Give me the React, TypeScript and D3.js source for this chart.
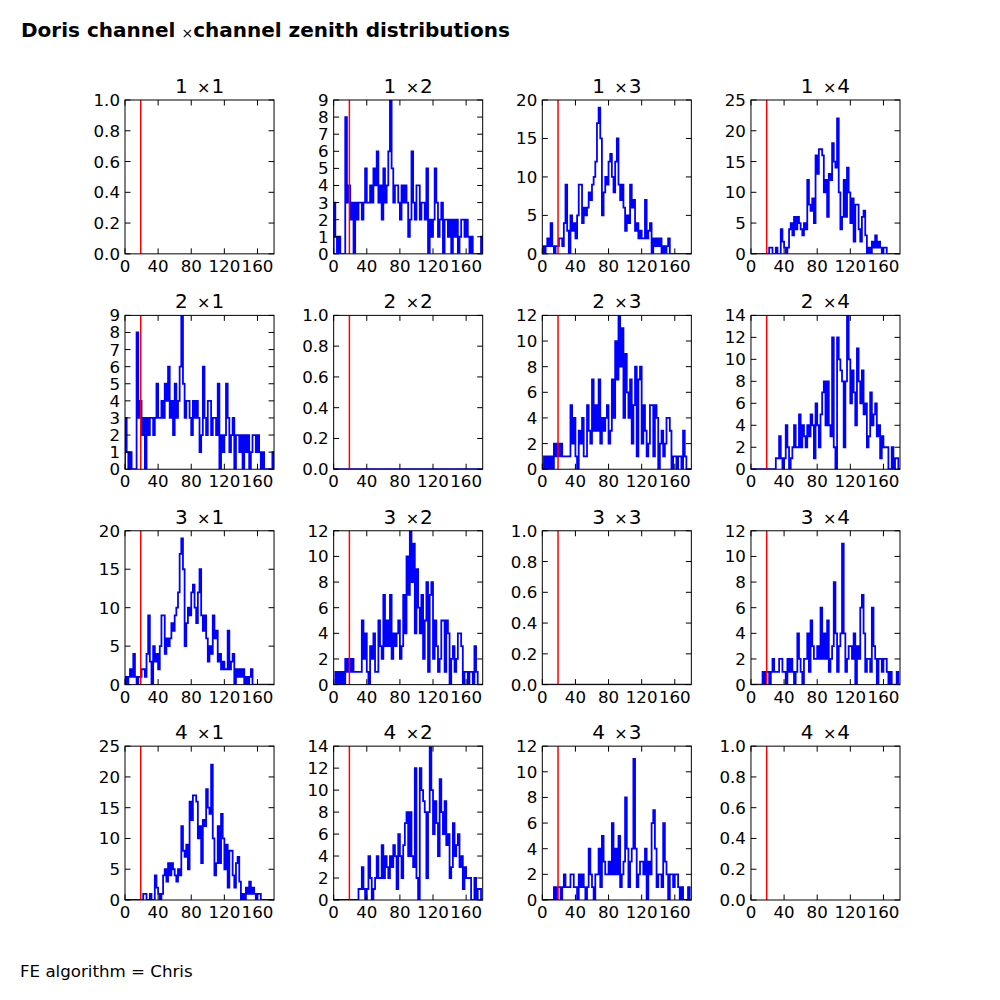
import * as d3 from "d3";

// channel pair histograms, 2 degree bins from 0 to 180 (pairs are symmetric)
const hist12 = [
  3, 1, 0, 1, 0, 0, 0, 8, 3, 4, 2, 3, 0, 3, 2, 3, 3, 2, 3, 5,
  3, 3, 4, 3, 5, 4, 6, 3, 4, 2, 5, 3, 4, 6, 9, 5, 3, 4, 4, 3,
  2, 4, 3, 4, 3, 1, 2, 6, 3, 2, 4, 4, 2, 3, 3, 2, 5, 0, 2, 1,
  2, 5, 3, 1, 2, 3, 0, 2, 2, 1, 2, 0, 2, 1, 2, 0, 1, 2, 2, 1,
  2, 1, 0, 1, 0, 0, 0, 0, 0, 1,
];
const hist13 = [
  1, 0, 1, 2, 1, 4, 1, 0, 1, 1, 2, 2, 1, 4, 9, 3, 0, 5, 3, 4,
  2, 5, 9, 9, 4, 6, 5, 6, 8, 7, 9, 10, 12, 17, 19, 15, 5, 8, 10, 9,
  12, 13, 10, 8, 12, 15, 9, 7, 9, 6, 3, 5, 4, 9, 6, 7, 3, 4, 2, 3,
  2, 2, 7, 2, 3, 4, 0, 2, 1, 2, 1, 2, 0, 1, 0, 1, 2, 0, 0, 0,
  0, 0, 0, 0, 0, 0, 0, 0, 0, 0,
];
const hist14 = [
  0, 0, 0, 0, 0, 0, 0, 0, 0, 0, 0, 1, 1, 0, 0, 1, 0, 0, 4, 2,
  1, 0, 1, 4, 5, 3, 6, 4, 6, 5, 4, 3, 5, 4, 12, 8, 7, 9, 5, 16,
  13, 17, 17, 16, 10, 12, 6, 13, 12, 18, 15, 14, 22, 10, 4, 6, 12, 6, 14, 10,
  5, 9, 2, 8, 8, 4, 2, 6, 7, 3, 0, 1, 0, 2, 1, 3, 1, 2, 1, 0,
  1, 1, 0, 0, 0, 0, 0, 0, 0, 0,
];
const hist23 = [
  0, 1, 0, 1, 0, 1, 0, 2, 1, 2, 1, 2, 1, 1, 1, 1, 1, 5, 2, 4,
  1, 0, 3, 2, 4, 1, 1, 5, 3, 2, 7, 3, 5, 3, 7, 2, 4, 3, 4, 5,
  2, 3, 7, 4, 10, 7, 12, 8, 11, 4, 9, 6, 4, 7, 2, 5, 8, 1, 7, 8,
  2, 5, 3, 1, 2, 5, 5, 1, 5, 4, 0, 2, 3, 1, 2, 4, 4, 3, 0, 1,
  1, 0, 1, 1, 0, 3, 1, 0, 0, 0,
];
const hist24 = [
  0, 0, 0, 0, 0, 0, 0, 0, 0, 0, 0, 0, 0, 0, 0, 1, 1, 3, 1, 0,
  1, 4, 2, 0, 1, 2, 4, 2, 2, 5, 2, 4, 3, 2, 4, 3, 5, 4, 1, 6,
  4, 2, 5, 7, 8, 4, 8, 4, 3, 12, 2, 0, 12, 10, 9, 8, 2, 8, 14, 10,
  6, 9, 7, 4, 11, 8, 6, 9, 5, 6, 2, 3, 7, 4, 5, 6, 3, 4, 1, 3,
  2, 2, 2, 0, 0, 2, 0, 1, 1, 0,
];
const hist34 = [
  0, 0, 0, 0, 0, 0, 0, 1, 0, 1, 1, 0, 1, 2, 1, 1, 1, 2, 2, 1,
  1, 0, 2, 1, 2, 1, 0, 1, 4, 2, 1, 0, 2, 2, 4, 1, 5, 3, 2, 2,
  3, 2, 6, 2, 4, 2, 5, 1, 2, 3, 8, 4, 1, 3, 4, 11, 4, 1, 2, 3,
  3, 2, 4, 0, 3, 2, 6, 7, 4, 1, 2, 2, 1, 6, 3, 2, 0, 2, 2, 1,
  2, 2, 1, 0, 1, 0, 0, 0, 1, 0,
];
const histZero = new Array(90).fill(0);

const binEdges = d3.range(0, 181, 2);
const xTicks = [0, 40, 80, 120, 160];
const channels = [1, 2, 3, 4];
const cutAngle = 19;

type PanelSpec = { hist: number[] | null; yMax: number; yStep: number; fmt: string };
const p12: PanelSpec = { hist: hist12, yMax: 9, yStep: 1, fmt: "d" };
const p13: PanelSpec = { hist: hist13, yMax: 20, yStep: 5, fmt: "d" };
const p14: PanelSpec = { hist: hist14, yMax: 25, yStep: 5, fmt: "d" };
const p23: PanelSpec = { hist: hist23, yMax: 12, yStep: 2, fmt: "d" };
const p24: PanelSpec = { hist: hist24, yMax: 14, yStep: 2, fmt: "d" };
const p34: PanelSpec = { hist: hist34, yMax: 12, yStep: 2, fmt: "d" };
const pZero: PanelSpec = { hist: histZero, yMax: 1, yStep: 0.2, fmt: ".1f" };
const pEmpty: PanelSpec = { hist: null, yMax: 1, yStep: 0.2, fmt: ".1f" };

const grid: PanelSpec[][] = [
  [pEmpty, p12, p13, p14],
  [p12, pZero, p23, p24],
  [p13, p23, pZero, p34],
  [p14, p24, p34, pEmpty],
];

const FONT = "DejaVu Sans, sans-serif";
const LEFT = 125;
const TOP = 100;
const AX_W = 775 / 5.2;
const AX_H = 800 / 5.2;
const TICK = 5.5;

function Panel({ spec, row, col }: { spec: PanelSpec; row: number; col: number }) {
  const x0 = LEFT + col * AX_W * 1.4;
  const y0 = TOP + row * AX_H * 1.4;
  const x = d3.scaleLinear().domain([0, 180]).range([0, AX_W]);
  const y = d3.scaleLinear().domain([0, spec.yMax]).range([AX_H, 0]);
  const yTicks = d3.range(0, spec.yMax + spec.yStep / 2, spec.yStep);
  const fmt = d3.format(spec.fmt);
  const clipId = `clip-${row}-${col}`;

  let path: string | null = null;
  if (spec.hist) {
    const pts: [number, number][] = [[0, 0]];
    spec.hist.forEach((v, i) => {
      pts.push([binEdges[i], v], [binEdges[i + 1], v]);
    });
    pts.push([180, 0]);
    path = d3.line<[number, number]>().x((d) => x(d[0])).y((d) => y(d[1]))(pts);
  }

  return (
    <g transform={`translate(${x0},${y0})`}>
      <clipPath id={clipId}>
        <rect width={AX_W} height={AX_H} />
      </clipPath>
      <rect width={AX_W} height={AX_H} fill="#fff" />
      {path && (
        <path d={path} fill="none" stroke="#0000ff" strokeWidth={1.8} clipPath={`url(#${clipId})`} />
      )}
      <line x1={x(cutAngle)} x2={x(cutAngle)} y1={0} y2={AX_H} stroke="#ff0000" strokeWidth={1.5} />
      {xTicks.map((t) => (
        <g key={`x${t}`}>
          <line x1={x(t)} x2={x(t)} y1={AX_H} y2={AX_H - TICK} stroke="#000" />
          <line x1={x(t)} x2={x(t)} y1={0} y2={TICK} stroke="#000" />
          <text x={x(t)} y={AX_H + 18} textAnchor="middle" fontSize={16.67} fontFamily={FONT}>
            {t}
          </text>
        </g>
      ))}
      {yTicks.map((t) => (
        <g key={`y${t}`}>
          <line x1={0} x2={TICK} y1={y(t)} y2={y(t)} stroke="#000" />
          <line x1={AX_W} x2={AX_W - TICK} y1={y(t)} y2={y(t)} stroke="#000" />
          <text x={-5} y={y(t)} dy="0.36em" textAnchor="end" fontSize={16.67} fontFamily={FONT}>
            {fmt(t)}
          </text>
        </g>
      ))}
      <rect width={AX_W} height={AX_H} fill="none" stroke="#000" strokeWidth={1} />
      <text x={AX_W / 2} y={-7} textAnchor="middle" fontSize={20} fontFamily={FONT}>
        {`${channels[row]} `}
        <tspan dx={3} fontSize={16}>×</tspan>
        <tspan dx={1}>{`${channels[col]}`}</tspan>
      </text>
    </g>
  );
}

export default function App() {
  return (
    <svg
      width={1000}
      height={1000}
      style={{ position: "absolute", left: 0, top: 0, background: "#fff" }}
    >
      <rect width={1000} height={1000} fill="#fff" />
      <text x={21} y={37} fontSize={20} fontFamily={FONT}>
        <tspan fontWeight="bold">Doris channel </tspan>
        <tspan dx={-1} fontSize={14} dy={1}>×</tspan>
        <tspan dy={-1} fontWeight="bold">channel zenith distributions</tspan>
      </text>
      {grid.map((rowSpecs, r) =>
        rowSpecs.map((spec, c) => <Panel key={`${r}-${c}`} spec={spec} row={r} col={c} />)
      )}
      <text x={20} y={977} fontSize={16.67} fontFamily={FONT}>
        FE algorithm = Chris
      </text>
    </svg>
  );
}
